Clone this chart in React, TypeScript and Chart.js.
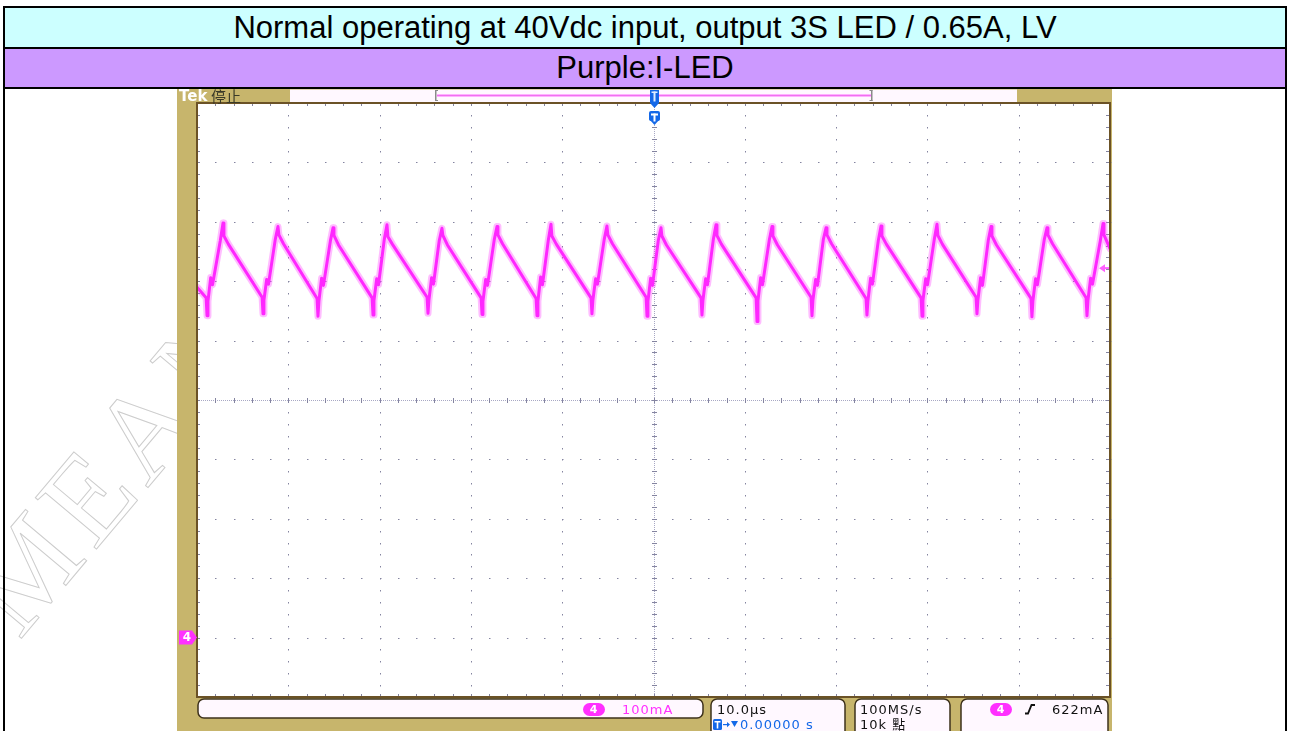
import React, { useEffect, useRef } from 'react';
import { Chart, registerables } from 'chart.js';

Chart.register(...registerables);

// ---------- text ----------
const TITLE = 'Normal operating at 40Vdc input, output 3S LED / 0.65A, LV';
const LEGEND_TEXT = 'Purple:I-LED';
const WATERMARK = 'MEAN WELL';

// ---------- axes (oscilloscope) ----------
const TIME_MIN = -50; // µs
const TIME_MAX = 50;
const TIME_PER_DIV = 10; // 10.0 µs/div
const CUR_MIN = -100; // mA
const CUR_MAX = 900;
const CUR_PER_DIV = 100; // 100 mA/div
const CH4_GROUND = 0; // mA
const TRIG_TIME = 0; // µs
const TRIG_LEVEL = 622; // mA

// ---------- CH4 LED current trace (time µs / current mA) ----------
const traceTime = [
  -50.0,
  -49.0, -48.9, -48.8, -48.5, -48.3, -47.45, -47.15, -47.05, -46.55,
  -42.87, -42.77, -42.67, -42.37, -42.17, -41.43, -41.13, -41.03, -40.53,
  -36.85, -36.75, -36.65, -36.35, -36.15, -35.4, -35.1, -35.0, -34.5,
  -30.82, -30.72, -30.62, -30.32, -30.12, -29.49, -29.19, -29.09, -28.59,
  -24.8, -24.7, -24.6, -24.3, -24.1, -23.47, -23.17, -23.07, -22.57,
  -18.88, -18.78, -18.68, -18.38, -18.18, -17.44, -17.14, -17.04, -16.54,
  -12.86, -12.76, -12.66, -12.36, -12.16, -11.53, -11.23, -11.13, -10.63,
  -6.84, -6.74, -6.64, -6.34, -6.14, -5.4, -5.1, -5.0, -4.5,
  -0.81, -0.71, -0.61, -0.31, -0.11, 0.52, 0.82, 0.92, 1.42,
  5.21, 5.31, 5.41, 5.71, 5.91, 6.55, 6.85, 6.95, 7.45,
  11.24, 11.34, 11.44, 11.74, 11.94, 12.68, 12.98, 13.08, 13.58,
  17.26, 17.36, 17.46, 17.76, 17.96, 18.6, 18.9, 19.0, 19.5,
  23.28, 23.38, 23.48, 23.78, 23.98, 24.62, 24.92, 25.02, 25.52,
  29.31, 29.41, 29.51, 29.81, 30.01, 30.75, 31.05, 31.15, 31.65,
  35.33, 35.43, 35.53, 35.83, 36.03, 36.67, 36.97, 37.07, 37.57,
  41.35, 41.45, 41.55, 41.85, 42.05, 42.8, 43.1, 43.2, 43.7,
  47.38, 47.48, 47.58, 47.88, 48.08, 48.94, 49.24, 49.34,
  50.0,
];
const traceCurrent = [
  590,
  572, 542, 566, 606, 594, 668, 698, 676, 662,
  573, 545, 568, 603, 595, 670, 692, 678, 663,
  571, 541, 566, 605, 593, 667, 690, 677, 661,
  572, 543, 567, 604, 594, 670, 695, 675, 662,
  573, 546, 568, 606, 595, 668, 689, 677, 661,
  572, 544, 566, 603, 593, 670, 692, 678, 663,
  571, 542, 566, 607, 594, 668, 696, 676, 662,
  572, 545, 568, 604, 595, 670, 693, 678, 663,
  573, 541, 566, 605, 593, 668, 690, 676, 661,
  572, 543, 567, 604, 594, 670, 695, 677, 662,
  572, 532, 567, 606, 594, 669, 692, 676, 661,
  573, 542, 568, 603, 593, 670, 690, 678, 663,
  571, 543, 566, 605, 595, 668, 693, 676, 662,
  572, 541, 567, 604, 594, 670, 696, 677, 662,
  573, 545, 568, 606, 593, 669, 692, 676, 661,
  571, 540, 566, 604, 594, 670, 690, 678, 663,
  572, 542, 567, 605, 595, 668, 697, 678,
  655,
];

// ---------- scope readouts ----------
const SCOPE_BRAND = 'Tek';
const SCOPE_STATE = '停止';
const CH4_LABEL = '4';
const CH4_SCALE = '100mA';
const TIMEBASE = '10.0µs';
const TRIG_DELAY = '0.00000 s';
const SAMPLE_RATE = '100MS/s';
const RECORD_LEN = '10k 點';
const TRIG_LEVEL_TEXT = '622mA';

// ---------- styles ----------
const TAN = '#C7B56C';
const BORDER = '#6B5226';
const GRID = '#8484A0';
const GRID_LIGHT = '#A8A8C4';
const MAGENTA = '#FF30FF';
const BLUE = '#1468E8';
const PANEL = '#FFF8FF';
const BOX_EDGE = '#3E321C';
const SFONT = '"DejaVu Sans", "Noto Sans CJK TC", sans-serif';

function box(ctx: any, x: number, y: number, w: number, h: number, r: number) {
  ctx.beginPath();
  ctx.roundRect(x, y, w, h, r);
  ctx.fillStyle = PANEL;
  ctx.fill();
  ctx.lineWidth = 1.5;
  ctx.strokeStyle = BOX_EDGE;
  ctx.stroke();
}

function pill(ctx: any, x: number, y: number, w: number, h: number, label: string) {
  ctx.beginPath();
  ctx.roundRect(x, y, w, h, h / 2);
  ctx.fillStyle = MAGENTA;
  ctx.fill();
  ctx.fillStyle = '#FFFFFF';
  ctx.font = 'bold 11px ' + SFONT;
  ctx.textAlign = 'center';
  ctx.textBaseline = 'middle';
  ctx.fillText(label, x + w / 2, y + h / 2 + 0.5);
  ctx.textAlign = 'left';
  ctx.textBaseline = 'alphabetic';
}

const scopePlugin = {
  id: 'scopeFrame',
  beforeDraw(chart: any) {
    const { ctx, chartArea: a, width, height } = chart;
    const xs = chart.scales.x;
    const ys = chart.scales.y;
    ctx.save();
    ctx.fillStyle = TAN;
    ctx.fillRect(0, 0, width, height);
    ctx.fillStyle = '#FFFFFF';
    ctx.fillRect(a.left, a.top, a.right - a.left, a.bottom - a.top);

    const minorX: number[] = [];
    for (let v = TIME_MIN; v <= TIME_MAX + 1e-9; v += TIME_PER_DIV / 5) minorX.push(v);
    const minorY: number[] = [];
    for (let v = CUR_MIN; v <= CUR_MAX + 1e-9; v += CUR_PER_DIV / 5) minorY.push(v);
    const majorX: number[] = [];
    for (let v = TIME_MIN + TIME_PER_DIV; v < TIME_MAX - 1e-9; v += TIME_PER_DIV) majorX.push(v);
    const majorY: number[] = [];
    for (let v = CUR_MIN + CUR_PER_DIV; v < CUR_MAX - 1e-9; v += CUR_PER_DIV) majorY.push(v);
    const xMid = (TIME_MIN + TIME_MAX) / 2;
    const yMid = (CUR_MIN + CUR_MAX) / 2;

    ctx.fillStyle = GRID;
    majorX.forEach((v) => {
      if (Math.abs(v - xMid) < 1e-9) return;
      const px = Math.round(xs.getPixelForValue(v));
      minorY.forEach((w) => ctx.fillRect(px, Math.round(ys.getPixelForValue(w)), 1, 1.5));
    });
    majorY.forEach((w) => {
      if (Math.abs(w - yMid) < 1e-9) return;
      const py = Math.round(ys.getPixelForValue(w));
      minorX.forEach((v) => ctx.fillRect(Math.round(xs.getPixelForValue(v)), py, 1.5, 1));
    });
    // center cross
    const cx = Math.round(xs.getPixelForValue(xMid));
    const cy = Math.round(ys.getPixelForValue(yMid));
    ctx.fillStyle = GRID_LIGHT;
    for (let y = a.top; y < a.bottom; y += 2) ctx.fillRect(cx, y, 1, 1);
    for (let x = a.left; x < a.right; x += 2) ctx.fillRect(x, cy, 1, 1);
    ctx.fillStyle = GRID;
    minorY.forEach((w) => ctx.fillRect(cx - 2, Math.round(ys.getPixelForValue(w)), 5, 1));
    minorX.forEach((v) => ctx.fillRect(Math.round(xs.getPixelForValue(v)), cy - 2, 1, 5));
    // edge ticks
    minorX.forEach((v) => {
      const px = Math.round(xs.getPixelForValue(v));
      ctx.fillRect(px, a.top, 1, 3);
      ctx.fillRect(px, a.bottom - 3, 1, 3);
    });
    minorY.forEach((w) => {
      const py = Math.round(ys.getPixelForValue(w));
      ctx.fillRect(a.left, py, 3, 1);
      ctx.fillRect(a.right - 4, py, 4, 1);
    });
    ctx.restore();
  },
  afterDraw(chart: any) {
    const { ctx, chartArea: a } = chart;
    const xs = chart.scales.x;
    const ys = chart.scales.y;
    ctx.save();
    // plot border
    ctx.strokeStyle = BORDER;
    ctx.lineWidth = 2;
    ctx.strokeRect(a.left, a.top, a.right - a.left, a.bottom - a.top);

    // ---- top bar ----
    ctx.fillStyle = PANEL;
    ctx.fillRect(113, 0.5, 727, 12.5);
    // record view bracket
    ctx.fillStyle = '#8A8A8A';
    ctx.fillRect(258, 1, 1.5, 11);
    ctx.fillRect(258, 1, 3, 1);
    ctx.fillRect(258, 11, 3, 1);
    ctx.fillRect(694, 1, 1.5, 11);
    ctx.fillRect(692.5, 1, 3, 1);
    ctx.fillRect(692.5, 11, 3, 1);
    ctx.fillStyle = '#FFB0FF';
    ctx.fillRect(260, 5, 434, 3);
    ctx.fillStyle = '#F070F0';
    ctx.fillRect(260, 6, 434, 1);

    ctx.fillStyle = '#FFFFFF';
    ctx.font = 'bold 15px ' + SFONT;
    ctx.fillText(SCOPE_BRAND, 2, 12);
    ctx.fillStyle = '#3A3A28';
    ctx.font = '15px "Noto Sans CJK TC", sans-serif';
    ctx.fillText(SCOPE_STATE, 34, 13);

    // trigger position marker
    const tx = Math.round(xs.getPixelForValue(TRIG_TIME));
    ctx.fillStyle = BLUE;
    ctx.fillRect(tx - 4, 1, 9, 13);
    ctx.beginPath();
    ctx.moveTo(tx - 4, 14);
    ctx.lineTo(tx + 5, 14);
    ctx.lineTo(tx + 0.5, 19);
    ctx.closePath();
    ctx.fill();
    ctx.fillStyle = '#DDEBFF';
    ctx.fillRect(tx - 2.5, 2.5, 6, 1.5);
    ctx.fillRect(tx - 0.5, 2.5, 2, 10);
    ctx.fillStyle = BLUE;
    ctx.beginPath();
    ctx.roundRect(tx - 5, 22, 11, 10, 2);
    ctx.fill();
    ctx.beginPath();
    ctx.moveTo(tx - 5, 30);
    ctx.lineTo(tx + 6, 30);
    ctx.lineTo(tx + 0.5, 36);
    ctx.closePath();
    ctx.fill();
    ctx.fillStyle = '#FFFFFF';
    ctx.fillRect(tx - 3, 24.5, 7, 2);
    ctx.fillRect(tx - 0.5, 24.5, 2, 8);

    // ch4 ground marker
    const gy = ys.getPixelForValue(CH4_GROUND);
    ctx.fillStyle = MAGENTA;
    ctx.beginPath();
    ctx.moveTo(2, gy - 7);
    ctx.lineTo(15, gy - 7);
    ctx.lineTo(20, gy);
    ctx.lineTo(15, gy + 7);
    ctx.lineTo(2, gy + 7);
    ctx.closePath();
    ctx.fill();
    ctx.fillStyle = '#FFFFFF';
    ctx.font = 'bold 12px ' + SFONT;
    ctx.textAlign = 'center';
    ctx.textBaseline = 'middle';
    ctx.fillText(CH4_LABEL, 10, gy + 0.5);
    ctx.textAlign = 'left';
    ctx.textBaseline = 'alphabetic';

    // trigger level arrow
    const ty = ys.getPixelForValue(TRIG_LEVEL);
    const rx = a.right;
    ctx.fillStyle = '#FF60FF';
    ctx.beginPath();
    ctx.moveTo(rx - 11, ty);
    ctx.lineTo(rx - 5, ty - 4);
    ctx.lineTo(rx - 5, ty + 4);
    ctx.closePath();
    ctx.fill();
    ctx.fillRect(rx - 6, ty - 1, 5, 2);

    // ---- status bar ----
    box(ctx, 21, 610, 505, 19, 6);
    box(ctx, 534, 610, 134, 50, 6);
    box(ctx, 678, 610, 95, 50, 6);
    box(ctx, 784, 610, 147, 50, 6);

    ctx.letterSpacing = '1px';
    pill(ctx, 406, 614, 22, 13, CH4_LABEL);
    ctx.fillStyle = MAGENTA;
    ctx.font = '13px ' + SFONT;
    ctx.fillText(CH4_SCALE, 445, 624.5);

    ctx.fillStyle = '#111111';
    ctx.fillText(TIMEBASE, 540, 624.5);
    ctx.fillText(SAMPLE_RATE, 683, 624.5);
    ctx.fillText(RECORD_LEN, 683, 640);
    ctx.fillText(TRIG_LEVEL_TEXT, 875, 624.5);

    // delay readout
    ctx.fillStyle = BLUE;
    ctx.beginPath();
    ctx.roundRect(536, 630, 9, 11, 1.5);
    ctx.fill();
    ctx.fillStyle = '#FFFFFF';
    ctx.fillRect(537.5, 632, 6, 1.5);
    ctx.fillRect(539.7, 632, 1.6, 7.5);
    ctx.fillStyle = BLUE;
    ctx.fillRect(546, 635, 5, 1.2);
    ctx.beginPath();
    ctx.moveTo(550, 633);
    ctx.lineTo(553, 635.6);
    ctx.lineTo(550, 638.2);
    ctx.closePath();
    ctx.fill();
    ctx.beginPath();
    ctx.moveTo(554, 632);
    ctx.lineTo(561, 632);
    ctx.lineTo(557.5, 638);
    ctx.closePath();
    ctx.fill();
    ctx.fillText(TRIG_DELAY, 563, 640);

    pill(ctx, 813, 614, 22, 13, CH4_LABEL);
    // rising edge symbol
    ctx.strokeStyle = '#111111';
    ctx.lineWidth = 1.8;
    ctx.beginPath();
    ctx.moveTo(848, 624.5);
    ctx.lineTo(851, 624.5);
    ctx.lineTo(854.5, 616);
    ctx.lineTo(858, 616);
    ctx.stroke();
    ctx.restore();
  },
};

export default function App() {
  const ref = useRef<HTMLCanvasElement>(null);
  useEffect(() => {
    const canvas = ref.current as HTMLCanvasElement;
    const data = traceTime.map((t, i) => ({ x: t, y: traceCurrent[i] }));
    const lineBase = { pointRadius: 0, tension: 0, borderJoinStyle: 'round', borderCapStyle: 'round' };
    const chart = new Chart(canvas, {
      type: 'line',
      data: {
        datasets: [
          { ...lineBase, data, borderColor: 'rgba(255,50,255,0.32)', borderWidth: 7 } as any,
          { ...lineBase, data, borderColor: '#FF22FF', borderWidth: 3 } as any,
        ],
      },
      options: {
        responsive: false,
        animation: false,
        devicePixelRatio: 1,
        events: [],
        layout: { padding: { left: 20, top: 14, right: 2, bottom: 34 } },
        scales: {
          x: { type: 'linear', min: TIME_MIN, max: TIME_MAX, display: false },
          y: { type: 'linear', min: CUR_MIN, max: CUR_MAX, display: false },
        },
        plugins: { legend: { display: false }, tooltip: { enabled: false }, title: { display: false } },
      } as any,
      plugins: [scopePlugin as any],
    });
    return () => chart.destroy();
  }, []);

  const rowText: React.CSSProperties = {
    position: 'absolute',
    left: 5,
    width: 1280,
    textAlign: 'center',
    whiteSpace: 'nowrap',
    font: '31px "Liberation Sans", Arial, sans-serif',
    color: '#000',
  };

  return (
    <div style={{ position: 'absolute', left: 0, top: 0, width: 1289, height: 731, overflow: 'hidden', background: '#fff' }}>
      <div
        style={{
          position: 'absolute',
          left: 30,
          top: 525,
          height: 125,
          lineHeight: '125px',
          whiteSpace: 'nowrap',
          font: '122px "Liberation Serif", serif',
          letterSpacing: '8px',
          color: 'transparent',
          WebkitTextStroke: '1px #CCCCCC',
          transform: 'rotate(-50deg)',
          transformOrigin: '0 100%',
        } as any}
      >
        {WATERMARK}
      </div>
      <div style={{ ...rowText, top: 8, height: 39, lineHeight: '39px', background: '#CCFFFF' }}>{TITLE}</div>
      <div style={{ ...rowText, top: 49, height: 38, lineHeight: '38px', background: '#CC99FF' }}>{LEGEND_TEXT}</div>
      <div style={{ position: 'absolute', left: 3, top: 47, width: 1284, height: 2, background: '#000' }} />
      <div style={{ position: 'absolute', left: 3, top: 87, width: 1284, height: 2, background: '#000' }} />
      <div style={{ position: 'absolute', left: 3, top: 6, width: 1284, height: 760, border: '2px solid #000', boxSizing: 'border-box' }} />
      <canvas ref={ref} width={935} height={642} style={{ position: 'absolute', left: 177, top: 89, display: 'block' }} />
    </div>
  );
}
